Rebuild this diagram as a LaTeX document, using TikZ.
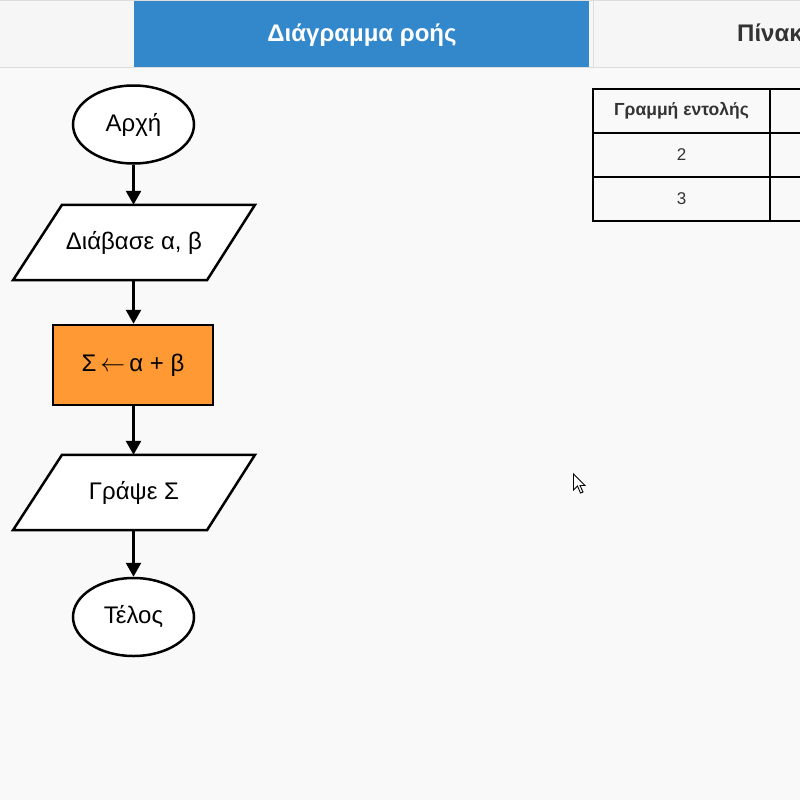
\documentclass[tikz,border=0pt]{standalone}
\usepackage{fontspec}
\setmainfont{Liberation Sans}
\usetikzlibrary{arrows.meta,shapes.geometric}
\definecolor{pagebg}{HTML}{F9F9F9}
\definecolor{hdrbg}{HTML}{F6F6F6}
\definecolor{hdrline}{HTML}{DDDDDD}
\definecolor{tabblue}{HTML}{3388CC}
\definecolor{boxorange}{HTML}{FF9933}
\definecolor{darktext}{HTML}{333333}
\tikzset{
  flowline/.style={line width=2.5pt, black},
  flowarrow/.style={flowline, -{Triangle[length=14pt,width=15pt]}},
  flowtext/.style={font=\fontsize{24}{28}\selectfont, text=black, inner sep=0pt},
  terminal/.style={flowtext, ellipse, draw, flowline, fill=white, minimum width=121pt, minimum height=78pt},
  iobox/.style={flowtext, minimum width=145pt, minimum height=75pt},
  procbox/.style={flowtext, rectangle, draw, flowline, fill=boxorange, minimum width=160pt, minimum height=80pt},
  cell/.style={draw, line width=2pt, black, minimum width=177pt, minimum height=44pt, inner sep=0pt,
     text=darktext, font=\fontsize{17}{20}\selectfont},
  tabtext/.style={font=\bfseries\fontsize{24}{28}\selectfont, inner sep=0pt}
}
\begin{document}
\begin{tikzpicture}[x=1pt,y=-1pt]
\useasboundingbox (0,0) rectangle (800,800);
\clip (0,0) rectangle (800,800);
\fill[pagebg] (0,0) rectangle (800,800);
% header bar
\fill[hdrbg] (0,0) rectangle (800,67);
\draw[hdrline, line width=1.2pt] (0,0.6) -- (800,0.6);
\draw[hdrline, line width=1.2pt] (0,67.5) -- (800,67.5);
\fill[tabblue] (134,1) rectangle (589,67);
\node[tabtext, text=white] (tab1) at (362,35) {Διάγραμμα ροής};
\draw[hdrline, line width=1.2pt] (593.5,67) -- (593.5,1);
\node[tabtext, text=darktext, anchor=west] (tab2) at (737,35) {Πίνακας τιμών};
% table
\node[cell, font=\bfseries\fontsize{17.5}{20}\selectfont] (c11) at (681.5,111) {Γραμμή εντολής};
\node[cell] (c21) at (681.5,155) {2};
\node[cell] (c31) at (681.5,199) {3};
\node[cell, minimum width=80pt] (c12) at (810,111) {};
\node[cell, minimum width=80pt] (c22) at (810,155) {};
\node[cell, minimum width=80pt] (c32) at (810,199) {};
% flowchart
\node[terminal] (start) at (133.5,124.5) {Αρχή};
\node[iobox] (read) at (134,242.5) {Διάβασε α, β};
\draw[flowline, fill=white] ([xshift=-72pt]read.north) -- ([xshift=121pt]read.north)
   -- ([xshift=73pt]read.south) -- ([xshift=-121pt]read.south) -- cycle;
\node[flowtext] at (read) {Διάβασε α, β};
\node[procbox] (sum) at (133,365) {Σ\,\ensuremath{\leftarrow}\,α + β};
\node[iobox] (write) at (134,492.5) {Γράψε Σ};
\draw[flowline, fill=white] ([xshift=-72pt]write.north) -- ([xshift=121pt]write.north)
   -- ([xshift=73pt]write.south) -- ([xshift=-121pt]write.south) -- cycle;
\node[flowtext] at (write) {Γράψε Σ};
\node[terminal] (stop) at (133.5,617) {Τέλος};
\draw[flowarrow] (start) -- (read.north -| start);
\draw[flowarrow] (read.south -| start) -- (sum.north -| start);
\draw[flowarrow] (sum.south -| start) -- (write.north -| start);
\draw[flowarrow] (write.south -| start) -- (stop);
% mouse cursor
\draw[black, fill=white, line width=0.9pt, line join=miter]
  (573.5,474) -- ++(0,16) -- ++(4,-4) -- ++(3,7) -- ++(2.5,-1) -- ++(-3,-6.5) -- ++(5,0) -- cycle;
\end{tikzpicture}
\end{document}
